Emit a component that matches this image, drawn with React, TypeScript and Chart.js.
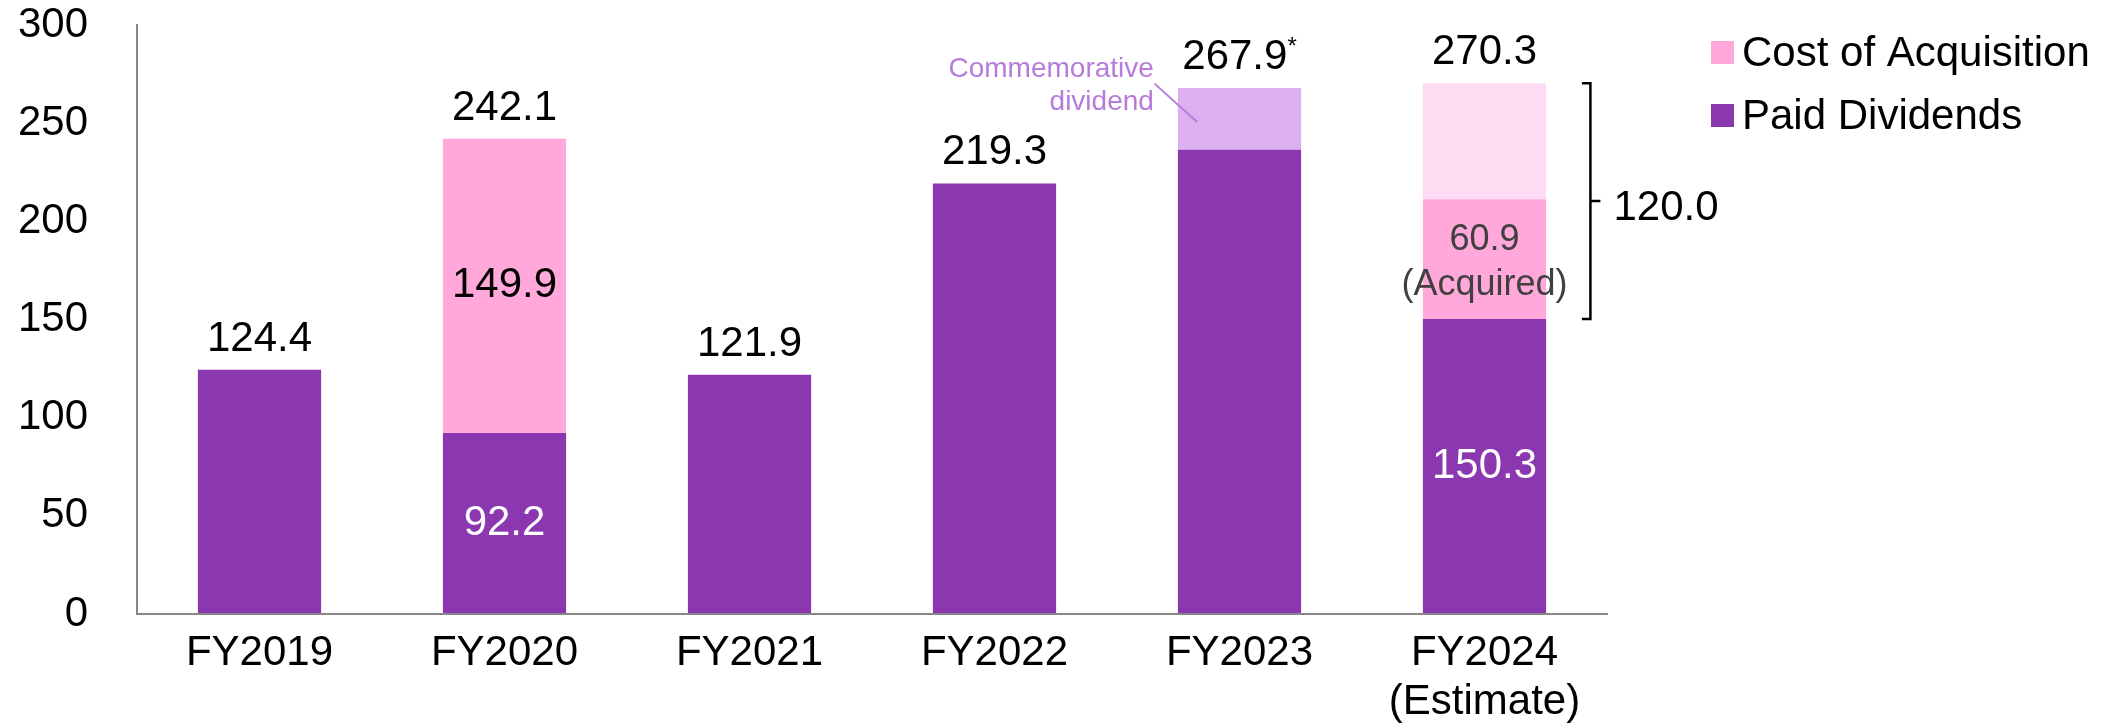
import React, { useEffect, useRef } from "react";
import { Chart, registerables } from "chart.js";

Chart.register(...registerables);

// ---------- DATA ----------
const categories: (string | string[])[] = [
  "FY2019",
  "FY2020",
  "FY2021",
  "FY2022",
  "FY2023",
  ["FY2024", "(Estimate)"],
];
const paidDividends: (number | null)[] = [124.4, 92.2, 121.9, 219.3, 236.4, 150.3];
const costOfAcquisition: (number | null)[] = [null, 149.9, null, null, null, 60.9];
const commemorativeDividend: (number | null)[] = [null, null, null, null, 31.5, null];
const plannedAcquisitionRemaining: (number | null)[] = [null, null, null, null, null, 59.1];

const totalLabels: string[] = ["124.4", "242.1", "121.9", "219.3", "267.9", "270.3"];
const totalMarks: string[] = ["", "", "", "", "*", ""];
const paidInnerLabels: (string | null)[] = [null, "92.2", null, null, null, "150.3"];
const acquisitionInnerLabels: (string[] | null)[] = [null, ["149.9"], null, null, null, ["60.9", "(Acquired)"]];
const commemorativeNote: string[] = ["Commemorative", "dividend"];
const bracketLabel = "120.0";
const legendLabels: string[] = ["Cost of Acquisition", "Paid Dividends"];
const yMin = 0;
const yMax = 300;
const yStep = 50;

// ---------- STYLE ----------
const W = 2126;
const H = 725;
const FONT = "'Liberation Sans', Arial, Helvetica, sans-serif";
const PURPLE = "#8B38B0";
const PINK = "#FFA8D9";
const LIGHT_PINK = "#FDDBF3";
const LAVENDER = "#DCAFF1";
const ANNOT = "#B77BDB";
const AXIS = "#878787";

const overlayPlugin = {
  id: "overlay",
  afterDraw(chart: any) {
    const ctx: CanvasRenderingContext2D = chart.ctx;
    const xs = chart.scales.x;
    const ys = chart.scales.y;
    const area = chart.chartArea;
    const paidMeta = chart.getDatasetMeta(0);
    const acqMeta = chart.getDatasetMeta(1);
    const comMeta = chart.getDatasetMeta(2);
    const remMeta = chart.getDatasetMeta(3);
    const all = [paidDividends, costOfAcquisition, commemorativeDividend, plannedAcquisitionRemaining];

    ctx.save();

    // totals above bars
    categories.forEach((_, i) => {
      const total = all.reduce((s, arr) => s + (arr[i] ?? 0), 0);
      const cx = xs.getPixelForValue(i);
      const top = ys.getPixelForValue(total);
      const main = totalLabels[i];
      const mark = totalMarks[i];
      ctx.textBaseline = "alphabetic";
      ctx.textAlign = "left";
      ctx.fillStyle = "#000";
      ctx.font = `42px ${FONT}`;
      const wMain = ctx.measureText(main).width;
      ctx.font = `24px ${FONT}`;
      const wMark = mark ? ctx.measureText(mark).width : 0;
      const start = cx - (wMain + wMark) / 2;
      ctx.font = `42px ${FONT}`;
      ctx.fillText(main, start, top - 19);
      if (mark) {
        ctx.font = `24px ${FONT}`;
        ctx.fillText(mark, start + wMain, top - 34);
      }
    });

    // labels inside paid dividends
    paidInnerLabels.forEach((lab, i) => {
      if (!lab) return;
      const el = paidMeta.data[i];
      const cy = (el.y + el.base) / 2;
      ctx.font = `42px ${FONT}`;
      ctx.fillStyle = "#fff";
      ctx.textAlign = "center";
      ctx.textBaseline = "middle";
      ctx.fillText(lab, el.x, cy);
    });

    // labels inside acquisition
    acquisitionInnerLabels.forEach((lines, i) => {
      if (!lines) return;
      const el = acqMeta.data[i];
      const cy = (el.y + el.base) / 2;
      const multi = lines.length > 1;
      ctx.font = `${multi ? 36 : 42}px ${FONT}`;
      ctx.fillStyle = multi ? "#404040" : "#000";
      ctx.textAlign = "center";
      ctx.textBaseline = "middle";
      const n = lines.length;
      lines.forEach((ln, k) => {
        const yy = cy + (multi ? 3.5 : 0) + (k - (n - 1) / 2) * 45;
        ctx.fillText(ln, el.x, yy);
      });
    });

    // commemorative dividend note
    const ce = comMeta.data[4];
    if (ce) {
      const left = ce.x - ce.width / 2;
      const segTop = ce.y;
      ctx.font = `28px ${FONT}`;
      ctx.fillStyle = ANNOT;
      ctx.textAlign = "right";
      ctx.textBaseline = "alphabetic";
      ctx.fillText(commemorativeNote[0], left - 24, segTop - 11);
      ctx.fillText(commemorativeNote[1], left - 24, segTop + 22.3);
      ctx.strokeStyle = ANNOT;
      ctx.lineWidth = 2;
      ctx.beginPath();
      ctx.moveTo(left - 23.4, segTop - 4.4);
      ctx.lineTo(left + 19.3, segTop + 34);
      ctx.stroke();
    }

    // bracket for FY2024
    const re = remMeta.data[5];
    const pe = paidMeta.data[5];
    if (re && pe) {
      const top = re.y;
      const bottom = pe.y;
      const bx = re.x + re.width / 2 + 44.3;
      const mid = (top + bottom) / 2;
      ctx.strokeStyle = "#000";
      ctx.lineWidth = 2.5;
      ctx.beginPath();
      ctx.moveTo(bx - 8.5, top);
      ctx.lineTo(bx, top);
      ctx.lineTo(bx, bottom);
      ctx.lineTo(bx - 8.5, bottom);
      ctx.moveTo(bx, mid);
      ctx.lineTo(bx + 10, mid);
      ctx.stroke();
      ctx.font = `42px ${FONT}`;
      ctx.fillStyle = "#000";
      ctx.textAlign = "left";
      ctx.textBaseline = "alphabetic";
      ctx.fillText(bracketLabel, bx + 23, mid + 18.5);
    }

    // legend
    const legendColors = [PINK, PURPLE];
    const lx = area.right + 104;
    legendLabels.forEach((lab, k) => {
      const top = area.top + 16 + k * 63;
      ctx.fillStyle = legendColors[k];
      ctx.fillRect(lx, top, 23, 23);
      ctx.font = `42px ${FONT}`;
      ctx.fillStyle = "#000";
      ctx.textAlign = "left";
      ctx.textBaseline = "alphabetic";
      ctx.fillText(lab, lx + 31, top + 24.5);
    });

    ctx.restore();
  },
};

export default function App() {
  const ref = useRef<HTMLCanvasElement>(null);

  useEffect(() => {
    document.body.style.margin = "0";
    document.body.style.overflow = "hidden";
    const canvas = ref.current;
    if (!canvas) return;
    const tickFont = { family: FONT, size: 42, lineHeight: 1.15 };
    const chart = new Chart(canvas, {
      type: "bar",
      data: {
        labels: categories,
        datasets: [
          { label: "Paid Dividends", data: paidDividends, backgroundColor: PURPLE, borderWidth: 0 },
          { label: "Cost of Acquisition", data: costOfAcquisition, backgroundColor: PINK, borderWidth: 0 },
          { label: "Commemorative dividend", data: commemorativeDividend, backgroundColor: LAVENDER, borderWidth: 0 },
          { label: "Planned acquisition", data: plannedAcquisitionRemaining, backgroundColor: LIGHT_PINK, borderWidth: 0 },
        ],
      },
      options: {
        responsive: false,
        animation: false,
        devicePixelRatio: 1,
        datasets: { bar: { barPercentage: 1, categoryPercentage: 0.503 } },
        layout: { padding: { top: 25, right: 519, left: 0, bottom: 0 } },
        plugins: { legend: { display: false }, tooltip: { enabled: false } },
        scales: {
          x: {
            stacked: true,
            grid: { display: false, drawTicks: false },
            border: { display: true, color: AXIS, width: 2, z: 1 },
            ticks: { color: "#000", font: tickFont, padding: 15.5, maxRotation: 0, autoSkip: false },
            afterFit: (s: any) => {
              s.height = 111;
              s.paddingLeft = 0;
              s.paddingRight = 0;
            },
          },
          y: {
            stacked: true,
            min: yMin,
            max: yMax,
            grid: { display: false, drawTicks: false },
            border: { display: true, color: AXIS, width: 2, z: 1 },
            ticks: { stepSize: yStep, color: "#000", font: { family: FONT, size: 42 }, padding: 49 },
            afterFit: (s: any) => {
              s.width = 137;
              s.paddingTop = 0;
              s.paddingBottom = 0;
            },
          },
        },
      } as any,
      plugins: [overlayPlugin],
    });
    return () => chart.destroy();
  }, []);

  return (
    <div style={{ width: W, height: H }}>
      <canvas ref={ref} width={W} height={H} style={{ display: "block", width: W, height: H }} />
    </div>
  );
}
